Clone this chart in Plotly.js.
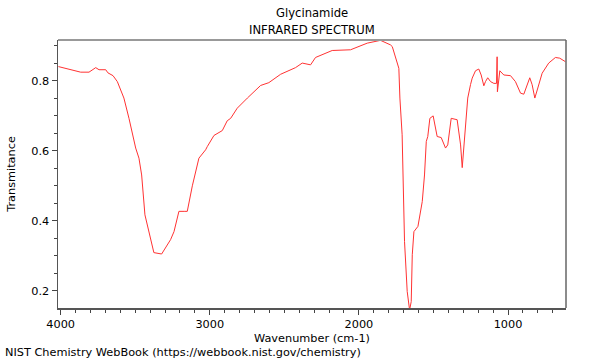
<!DOCTYPE html>
<html><head><meta charset="utf-8">
<script src="https://cdn.plot.ly/plotly-3.0.1.min.js"></script>
<style>html,body{margin:0;padding:0;background:#fff}#chart{width:600px;height:360px}</style>
</head><body><div id="chart"></div>
<script>
const wavenumber = [4015,3866,3810,3765,3743,3698,3683,3649,3620,3576,3542,3509,3497,3475,3457,3435,3419,3375,3323,3263,3240,3207,3167,3151,3117,3073,3028,3017,2972,2916,2883,2860,2816,2793,2748,2659,2604,2525,2425,2380,2324,2291,2179,2056,1944,1855,1788,1776,1743,1732,1725,1710,1694,1676,1660,1649,1642,1631,1604,1575,1560,1548,1538,1524,1502,1475,1448,1419,1404,1381,1341,1318,1307,1292,1270,1251,1240,1218,1196,1180,1162,1151,1136,1117,1095,1077,1073,1071,1055,1028,983,950,916,894,871,854,838,820,804,771,727,682,653,615];
const transmittance = [0.841,0.825,0.825,0.838,0.832,0.832,0.823,0.815,0.798,0.751,0.693,0.627,0.608,0.579,0.531,0.417,0.389,0.309,0.305,0.346,0.369,0.427,0.427,0.427,0.500,0.579,0.603,0.612,0.644,0.658,0.686,0.693,0.722,0.731,0.751,0.787,0.795,0.819,0.838,0.851,0.846,0.867,0.887,0.889,0.908,0.916,0.903,0.898,0.855,0.836,0.751,0.646,0.341,0.198,0.145,0.169,0.303,0.369,0.384,0.455,0.531,0.627,0.641,0.693,0.700,0.641,0.638,0.608,0.617,0.693,0.689,0.617,0.552,0.627,0.751,0.790,0.808,0.829,0.834,0.817,0.786,0.798,0.809,0.798,0.793,0.793,0.869,0.769,0.829,0.817,0.815,0.798,0.765,0.762,0.789,0.809,0.789,0.751,0.774,0.822,0.851,0.867,0.865,0.855];
const xTickVals = [4000,3000,2000,1000];
const yTickVals = [0.2,0.4,0.6,0.8];
const titleLines = ['Glycinamide', 'INFRARED SPECTRUM'];

const fam = 'DejaVu Sans, sans-serif';
Plotly.newPlot('chart', [{
  x: wavenumber, y: transmittance, type:'scatter', mode:'lines',
  line:{color:'rgb(255,50,50)', width:1}, hoverinfo:'skip'
}], {
  width:600, height:360,
  margin:{l:58, r:34, t:40, b:52},
  paper_bgcolor:'#fff', plot_bgcolor:'#fff',
  font:{family:fam, size:11.3, color:'#000'},
  showlegend:false,
  xaxis:{range:[4018,611], tickvals:xTickVals, ticks:'outside', ticklen:5, tickwidth:1, tickcolor:'#444',
    showline:true, linecolor:'#555', linewidth:1.5, showgrid:false, zeroline:false,
    minor:{dtick:100, tick0:0, ticks:'outside', ticklen:3, tickcolor:'#444', showgrid:false},
    tickfont:{size:11.3}, title:{text:'Wavenumber (cm-1)', font:{size:11.3}, standoff:4}},
  yaxis:{range:[0.1506,0.917], tickvals:yTickVals, tickformat:'.1f', ticks:'outside', ticklen:5, tickwidth:1, tickcolor:'#444',
    showline:true, linecolor:'#555', linewidth:1.5, showgrid:false, zeroline:false,
    minor:{dtick:0.05, tick0:0, ticks:'outside', ticklen:3, tickcolor:'#444', showgrid:false},
    tickfont:{size:11.3}, title:{text:'Transmitance', font:{size:11.3}, standoff:13}},
  shapes:[
    {type:'line', xref:'paper', yref:'paper', x0:0, x1:1, y0:1, y1:1, line:{color:'#999', width:2}},
    {type:'line', xref:'paper', yref:'paper', x0:1, x1:1, y0:0, y1:1, line:{color:'#666', width:1.5}}
  ],
  annotations:[
    {text:titleLines[0], xref:'paper', yref:'paper', x:0.5, y:1.1007, xanchor:'center', yanchor:'middle', showarrow:false, font:{size:11.6,color:'#000'}},
    {text:titleLines[1], xref:'paper', yref:'paper', x:0.5, y:1.0373, xanchor:'center', yanchor:'middle', showarrow:false, font:{size:11.6,color:'#000'}},
    {text:'NIST Chemistry WebBook (https://webbook.nist.gov/chemistry)', xref:'paper', yref:'paper',
     x:-0.108, y:-0.165, xanchor:'left', yanchor:'middle', showarrow:false, font:{size:11.3,color:'#000'}}
  ]
}, {staticPlot:true, displayModeBar:false});
</script></body></html>
